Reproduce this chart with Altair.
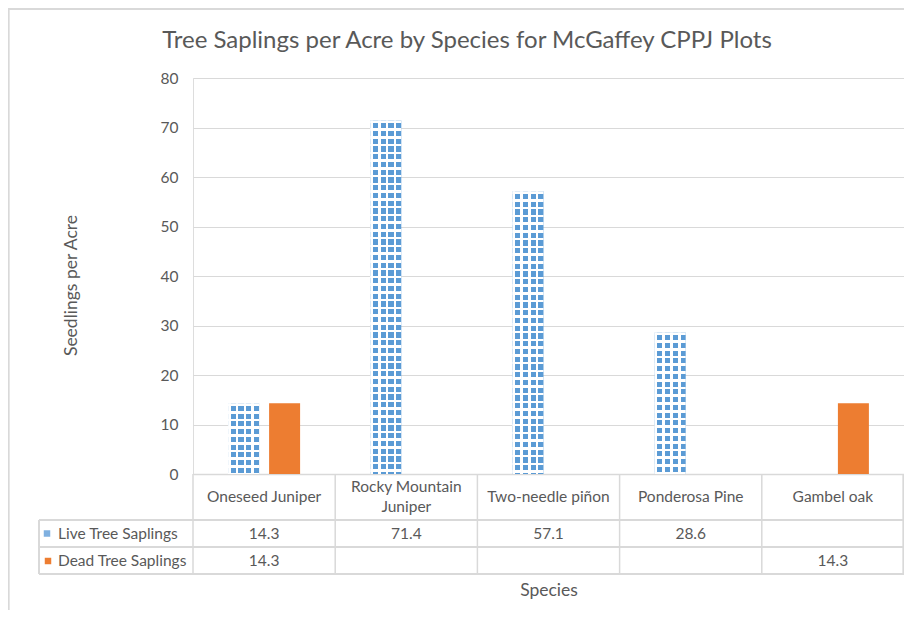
import altair as alt
import pandas as pd

# ---------------- data ----------------
species = ["Oneseed Juniper", "Rocky Mountain Juniper", "Two-needle piñon",
           "Ponderosa Pine", "Gambel oak"]
species_labels = ["Oneseed Juniper", "Rocky Mountain\nJuniper", "Two-needle piñon",
                  "Ponderosa Pine", "Gambel oak"]
live_values = [14.3, 71.4, 57.1, 28.6, None]
dead_values = [14.3, None, None, None, 14.3]
y_ticks = [0, 10, 20, 30, 40, 50, 60, 70, 80]

title_text = "Tree Saplings per Acre by Species for McGaffey CPPJ Plots"
y_title = "Seedlings per Acre"
x_title = "Species"
row_labels = ["Live Tree Saplings", "Dead Tree Saplings"]

# ---------------- styles ----------------
FONT = "Lato"
TXT = "#595959"
GRID = "#d9d9d9"
BLUE = "#5b9bd5"
ORANGE = "#ed7d31"
FS = 15.5
TFS = 17.5
W, H = 711, 396
YMAX = 80

live_df = pd.DataFrame({"species": species, "value": live_values}).dropna()
dead_df = pd.DataFrame({"species": species, "value": dead_values}).dropna()
hdr_df = pd.DataFrame({"species": species, "label": species_labels,
                       "lines": [len(s.split("\n")) for s in species_labels]})
live_txt = pd.DataFrame({"species": species,
                         "label": ["" if v is None else f"{v:.1f}" for v in live_values]})
dead_txt = pd.DataFrame({"species": species,
                         "label": ["" if v is None else f"{v:.1f}" for v in dead_values]})
rows_df = pd.DataFrame({"label": row_labels, "series": ["Live", "Dead"]})

x_enc = alt.X("species:N", sort=species,
              scale=alt.Scale(domain=species, paddingInner=0, paddingOuter=0),
              axis=alt.Axis(labels=False, ticks=False, domain=True, domainColor=GRID,
                            domainWidth=1.5, grid=False, title=x_title, titleFont=FONT,
                            titleFontSize=TFS, titleFontWeight="normal", titleColor=TXT,
                            titleY=116, titleBaseline="middle"))
y_enc = alt.Y("value:Q", scale=alt.Scale(domain=[0, YMAX], nice=False),
              axis=alt.Axis(values=y_ticks, grid=True, gridColor=GRID, gridWidth=1.2,
                            domain=False, ticks=False, labelFont=FONT, labelFontSize=FS,
                            labelColor=TXT, labelPadding=15, title=y_title,
                            titleFont=FONT, titleFontSize=TFS, titleFontWeight="normal",
                            titleColor=TXT, titleX=-122, titleY=207,
                            titleBaseline="middle"))


def stripes(n_len, period, line, horizontal):
    """white lattice lines (pattern) as a hard-stop linear gradient"""
    stops = []
    k = 0
    while k * period < n_len:
        a = k * period / n_len
        b = min(1.0, (k * period + line) / n_len)
        c = min(1.0, (k + 1) * period / n_len)
        stops += [alt.GradientStop(offset=a, color="#ffffff"),
                  alt.GradientStop(offset=b, color="#ffffff"),
                  alt.GradientStop(offset=b, color="rgba(255,255,255,0)"),
                  alt.GradientStop(offset=c, color="rgba(255,255,255,0)")]
        k += 1
    if horizontal:
        return alt.LinearGradient(gradient="linear", stops=stops, x1=0, y1=0, x2=0, y2=1)
    return alt.LinearGradient(gradient="linear", stops=stops, x1=0, y1=0, x2=1, y2=0)


BAR_W = 31
OFF = 20.5
PERIOD = 7.75
LINE = 2.6

layers = []

# outer chart frame
layers.append(alt.Chart(live_df).mark_rect(fill="transparent", stroke=GRID, strokeWidth=1.5)
              .encode(x=alt.value(-184.5), x2=alt.value(W + 40),
                      y=alt.value(-69), y2=alt.value(H + 200)))

# live bars: base blue, then white lattice stripes
layers.append(alt.Chart(live_df).mark_bar(width=BAR_W, xOffset=-OFF, fill=BLUE)
              .encode(x=x_enc, y=y_enc))
layers.append(alt.Chart(live_df).mark_bar(width=BAR_W, xOffset=-OFF,
                                          fill=stripes(BAR_W, PERIOD, LINE, False))
              .encode(x=x_enc, y=y_enc))
for sp, v in zip(live_df["species"], live_df["value"]):
    h = v * H / YMAX
    layers.append(alt.Chart(live_df).transform_filter(alt.datum.species == sp)
                  .mark_bar(width=BAR_W, xOffset=-OFF, fill=stripes(h, PERIOD, LINE, True))
                  .encode(x=x_enc, y=y_enc))

# dead bars
layers.append(alt.Chart(dead_df).mark_bar(width=BAR_W, xOffset=OFF, fill=ORANGE)
              .encode(x=x_enc, y=y_enc))

# ---- data table ----
T1, T2, T3 = 442, 469, 496   # row borders (below plot)
LEFT = -154
rule = lambda **kw: alt.Chart(live_df).mark_rule(color=GRID, strokeWidth=1.5).encode(**kw)
layers.append(alt.Chart(hdr_df).mark_rule(color=GRID, strokeWidth=1.5)
              .encode(x=alt.X("species:N", sort=species, bandPosition=0),
                      y=alt.value(H), y2=alt.value(T3)))
layers.append(rule(x=alt.value(W - 0.5), y=alt.value(H), y2=alt.value(T3)))
layers.append(rule(x=alt.value(LEFT), y=alt.value(T1), y2=alt.value(T3)))
for yy in (T1, T2, T3):
    layers.append(rule(x=alt.value(LEFT), x2=alt.value(W), y=alt.value(yy)))

txt = dict(font=FONT, fontSize=FS, color=TXT, baseline="middle", align="center")
LH = 20
layers.append(alt.Chart(hdr_df).transform_filter(alt.datum.lines == 1)
              .mark_text(**txt)
              .encode(x=alt.X("species:N", sort=species), y=alt.value(419), text="label:N"))
layers.append(alt.Chart(hdr_df).transform_filter(alt.datum.lines == 2)
              .mark_text(lineBreak="\n", lineHeight=LH, **txt)
              .encode(x=alt.X("species:N", sort=species), y=alt.value(419 - LH / 2),
                      text="label:N"))
layers.append(alt.Chart(live_txt).mark_text(**txt)
              .encode(x=alt.X("species:N", sort=species), y=alt.value(455.5), text="label:N"))
layers.append(alt.Chart(dead_txt).mark_text(**txt)
              .encode(x=alt.X("species:N", sort=species), y=alt.value(483), text="label:N"))

# row headers with legend keys
row_txt = dict(font=FONT, fontSize=FS, color=TXT, baseline="middle", align="left")
layers.append(alt.Chart(rows_df).transform_filter(alt.datum.series == "Live")
              .mark_text(**row_txt)
              .encode(x=alt.value(-135), y=alt.value(455.5), text="label:N"))
layers.append(alt.Chart(rows_df).transform_filter(alt.datum.series == "Dead")
              .mark_text(**row_txt)
              .encode(x=alt.value(-135), y=alt.value(483), text="label:N"))
layers.append(alt.Chart(rows_df).transform_filter(alt.datum.series == "Live")
              .mark_square(size=42, filled=True, color="#7fb0e0", opacity=1)
              .encode(x=alt.value(-146), y=alt.value(455.5)))
layers.append(alt.Chart(rows_df).transform_filter(alt.datum.series == "Dead")
              .mark_square(size=42, filled=True, color=ORANGE, opacity=1)
              .encode(x=alt.value(-145), y=alt.value(483)))

# title
layers.append(alt.Chart(rows_df).transform_filter(alt.datum.series == "Live")
              .mark_text(font=FONT, fontSize=24, color=TXT, baseline="middle", align="center",
                         text=title_text)
              .encode(x=alt.value(274), y=alt.value(-37)))

chart = alt.layer(*layers).properties(
    width=W, height=H,
    autosize=alt.AutoSizeParams(type="none"),
    padding={"left": 185, "top": 70, "right": 0, "bottom": 136},
).configure_view(stroke=None).configure(background="white")

chart.save("out.html", embed_options={"renderer": "svg", "actions": False})
